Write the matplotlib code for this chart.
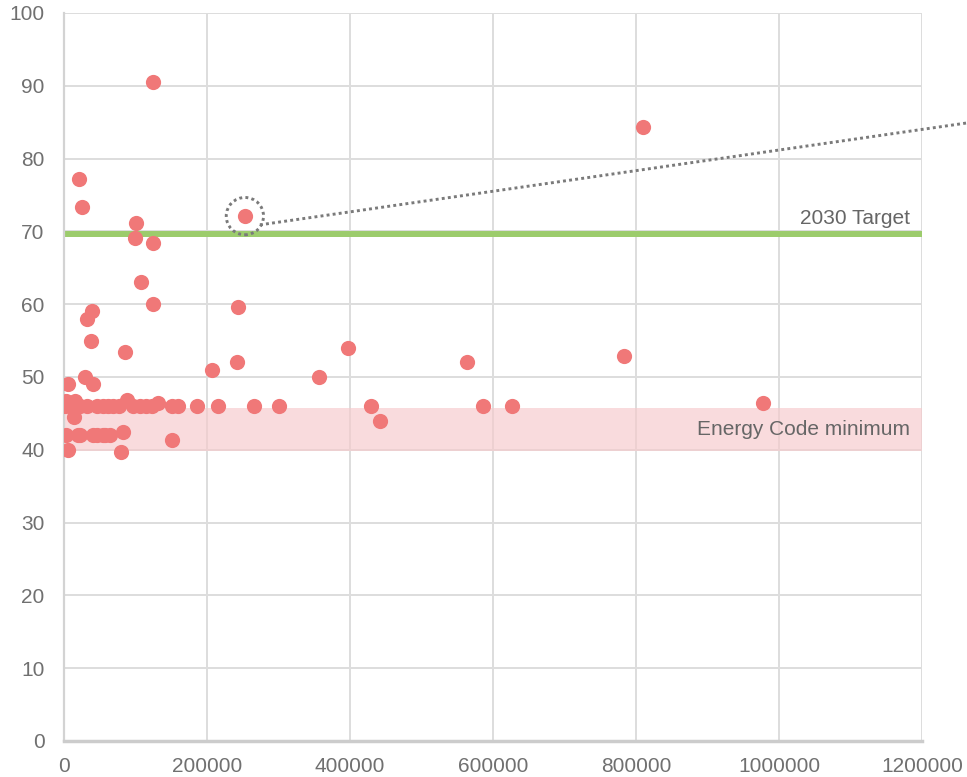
import matplotlib
matplotlib.use("Agg")
import matplotlib.pyplot as plt
import numpy as np

plt.rcParams["font.family"] = ["Liberation Sans", "DejaVu Sans"]

# building size (sq ft, thousands) vs score
size_k = [
    124.5, 810, 21, 24.7, 253, 100.7, 99.3, 124, 107.7, 125, 244, 38.7, 31.7,
    37.8, 397.7, 85, 783, 242, 563, 207, 30, 357, 5, 40,
    # row around 46
    1.4, 8.4, 22.4, 32.2, 46.2, 54.5, 61.5, 68.5, 76.9, 96.5, 106.3,
    114.7, 123, 151, 159.4, 186, 215.4, 265.7, 300.7, 429, 585.6, 626,
    2.8, 15.4, 88, 131, 977.6,
    14.4, 442,
    # row around 42
    2.8, 19.6, 22.4, 40.6, 46.2, 54.5, 57.3, 64.3,
    83, 151.5, 5, 80,
]
score = [
    90.5, 84.3, 77.2, 73.3, 72.1, 71.2, 69.1, 68.4, 63.1, 60.0, 59.6, 59.0, 58.0,
    55.0, 54.0, 53.5, 52.9, 52.0, 52.0, 51.0, 50.0, 50.0, 49.0, 49.0,
    46, 46, 46, 46, 46, 46, 46, 46, 46, 46, 46,
    46, 46, 46, 46, 46, 46, 46, 46, 46, 46, 46,
    46.7, 46.7, 46.8, 46.4, 46.4,
    44.5, 44.0,
    42, 42, 42, 42, 42, 42, 42, 42,
    42.5, 41.4, 40.0, 39.7,
]

TARGET_2030 = 69.7
CODE_MIN = (39.8, 45.8)
HIGHLIGHT = (253000, 72.1)
CALLOUT_START = (274000, 70.9)
CALLOUT_END = (1263000, 84.9)

x = np.array(size_k) * 1000
y = np.array(score)

fig = plt.figure(figsize=(9.67, 7.77), dpi=100)
ax = fig.add_axes([64 / 967, 36 / 777, 858 / 967, 728 / 777])

ax.set_xlim(0, 1200000)
ax.set_ylim(0, 100)
ax.set_xticks(np.arange(0, 1200001, 200000))
ax.set_yticks(np.arange(0, 101, 10))
ax.grid(True, color="#dddddd", linewidth=1.4, zorder=0)
ax.set_axisbelow(True)

for s in ["top", "right"]:
    ax.spines[s].set_visible(False)
ax.spines["left"].set_color("#d3d3d3")
ax.spines["left"].set_linewidth(1.6)
ax.spines["bottom"].set_color("#cccccc")
ax.spines["bottom"].set_linewidth(2.5)

ax.tick_params(length=0, labelsize=15, labelcolor="#707070")
ax.tick_params(axis="y", pad=14)
ax.tick_params(axis="x", pad=11.5)
ax.ticklabel_format(style="plain", useOffset=False)

# energy code band
ax.axhspan(CODE_MIN[0], CODE_MIN[1], color="#f7c9cb", alpha=0.65, lw=0, zorder=1)
ax.text(1183000, 42.0, "Energy Code minimum", ha="right", va="baseline",
        fontsize=15, color="#666666", zorder=5)

# 2030 target line
ax.axhline(TARGET_2030, color="#9ccc6c", linewidth=4.3, zorder=2)
ax.text(1183000, 71.0, "2030 Target", ha="right", va="baseline",
        fontsize=15, color="#666666", zorder=5)

ax.scatter(x, y, s=120, color="#f07878", linewidths=0, zorder=3)

# highlighted building with callout
dots = (0, (1.0, 1.1))
ax.scatter([HIGHLIGHT[0]], [HIGHLIGHT[1]], s=720, facecolors="none",
           edgecolors="#7a7a7a", linewidths=2.1, linestyles=dots, zorder=4)
ax.plot([CALLOUT_START[0], CALLOUT_END[0]], [CALLOUT_START[1], CALLOUT_END[1]],
        color="#7a7a7a", linewidth=2.1, linestyle=dots, dash_capstyle="butt",
        clip_on=False, zorder=4)

fig.savefig("out.png", dpi=100)
